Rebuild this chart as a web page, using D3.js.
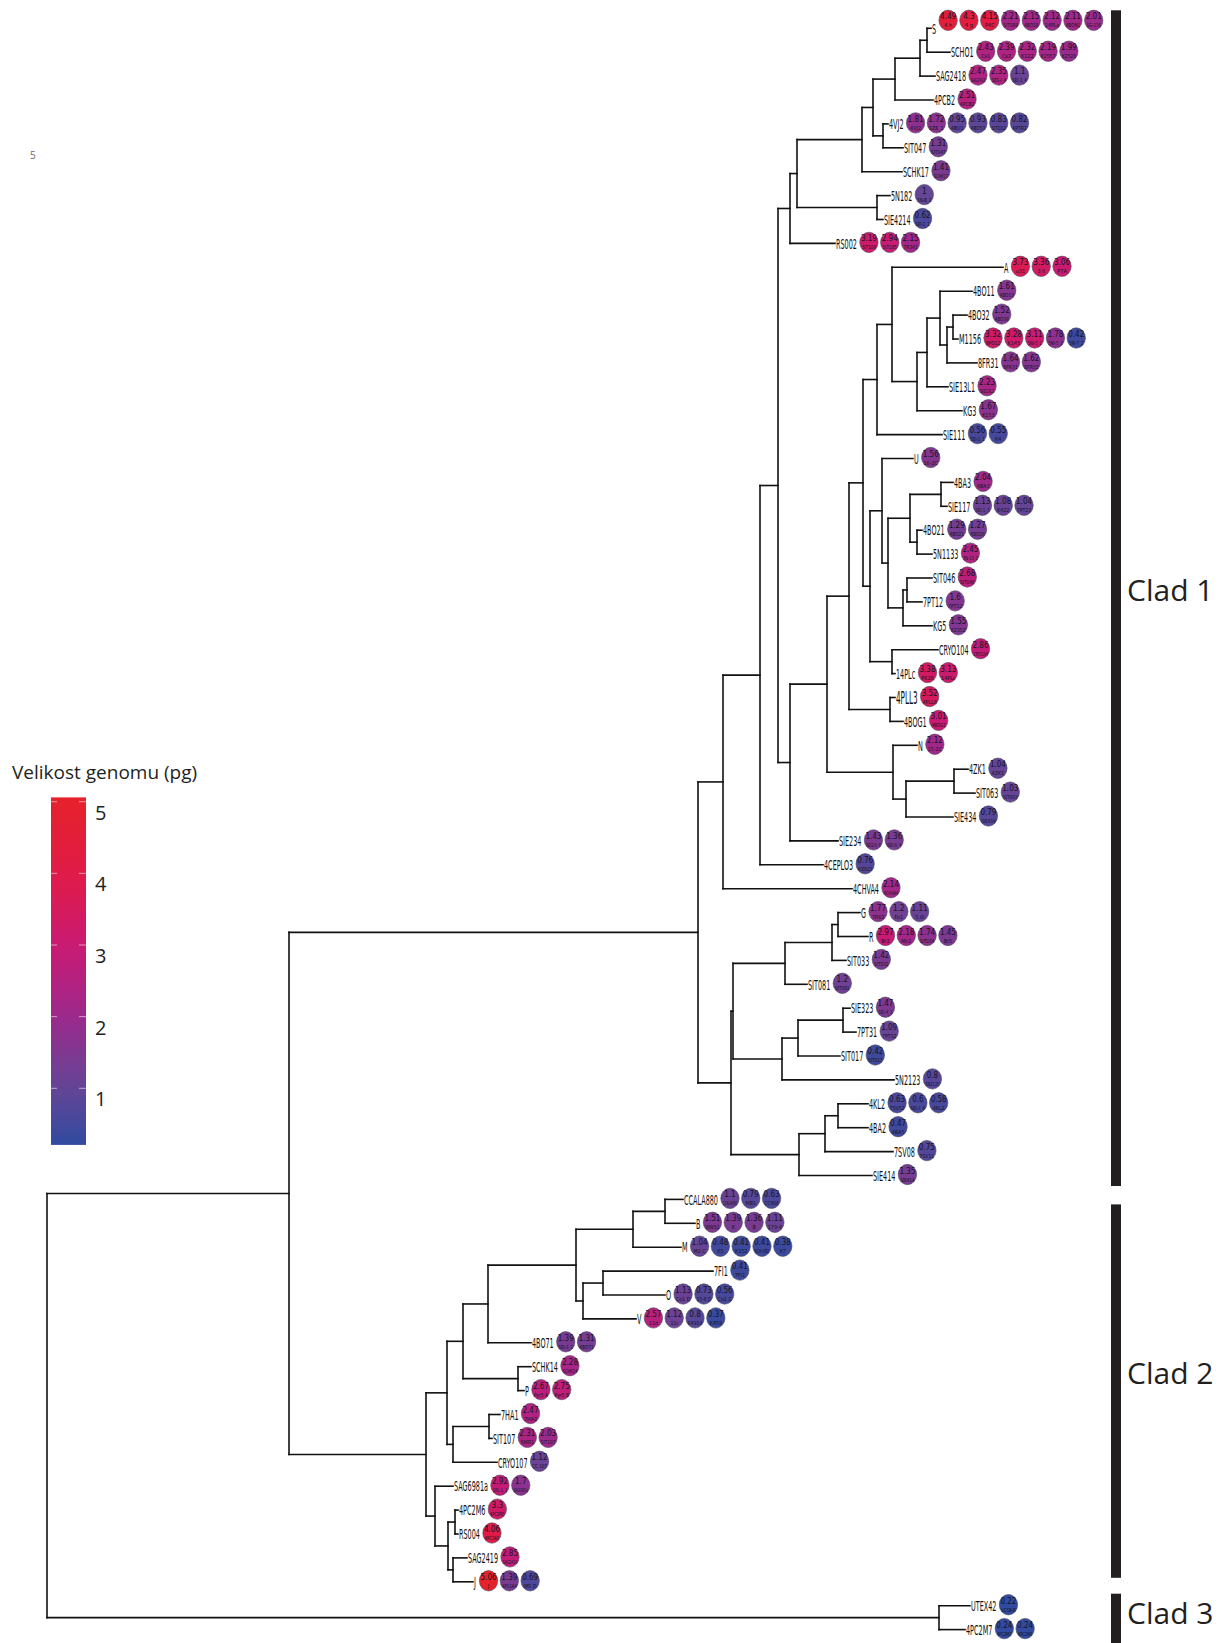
<!DOCTYPE html>
<html>
<head>
<meta charset="utf-8">
<script src="https://cdn.jsdelivr.net/npm/d3@7"></script>
<style>
  body { margin: 0; background: #fff; }
  svg { display: block; }
</style>
</head>
<body>
<svg></svg>
<script>
var width = 1227, height = 1643;

// tree: [node, parent, branch length]
var branches = [
  ["root", null, 0],
  ["n12", "root", 0.242],
  ["c1", "n12", 0.409],
  ["n723", "c1", 0.025],
  ["n760", "n723", 0.037],
  ["n778", "n760", 0.018],
  ["n790", "n778", 0.012],
  ["n797", "n790", 0.007],
  ["n862", "n797", 0.065],
  ["n873", "n862", 0.011],
  ["n895", "n873", 0.022],
  ["n920", "n895", 0.025],
  ["n927", "n920", 0.007],
  ["S", "n927", 0.004],
  ["SCHO1", "n927", 0.023],
  ["SAG2418", "n920", 0.015],
  ["4PCB2", "n895", 0.038],
  ["n883", "n873", 0.010],
  ["4VJ2", "n883", 0.005],
  ["SIT047", "n883", 0.020],
  ["SCHK17", "n862", 0.040],
  ["n877", "n797", 0.080],
  ["5N182", "n877", 0.013],
  ["SIE4214", "n877", 0.006],
  ["RS002", "n790", 0.045],
  ["nX", "n778", 0.012],
  ["nY", "nX", 0.037],
  ["nZ", "nY", 0.022],
  ["nW", "nZ", 0.014],
  ["nV1", "nW", 0.014],
  ["nV1a", "nV1", 0.015],
  ["A", "nV1a", 0.111],
  ["nV1b", "nV1a", 0.025],
  ["nV1c", "nV1b", 0.010],
  ["nV1d", "nV1c", 0.013],
  ["4BO11", "nV1d", 0.032],
  ["nV1e", "nV1d", 0.007],
  ["nV1f", "nV1e", 0.006],
  ["4BO32", "nV1f", 0.014],
  ["M1156", "nV1f", 0.005],
  ["8FR31", "nV1e", 0.030],
  ["SIE13L1", "nV1c", 0.021],
  ["KG3", "nV1b", 0.045],
  ["SIE111", "nV1", 0.065],
  ["nV2", "nW", 0.007],
  ["nV2a", "nV2", 0.012],
  ["U", "nV2a", 0.031],
  ["nV2b", "nV2a", 0.006],
  ["nV2c", "nV2b", 0.022],
  ["n4BA3", "nV2c", 0.031],
  ["4BA3", "n4BA3", 0.012],
  ["SIE117", "n4BA3", 0.006],
  ["n4BO21", "nV2c", 0.007],
  ["4BO21", "n4BO21", 0.005],
  ["5N1133", "n4BO21", 0.015],
  ["nV2d", "nV2b", 0.015],
  ["nSIT046", "nV2d", 0.004],
  ["SIT046", "nSIT046", 0.025],
  ["7PT12", "nSIT046", 0.015],
  ["KG5", "nV2d", 0.029],
  ["nCR", "nV2", 0.022],
  ["CRYO104", "nCR", 0.046],
  ["14PLc", "nCR", 0.003],
  ["n4PLL", "nZ", 0.041],
  ["4PLL3", "n4PLL", 0.005],
  ["4BOG1", "n4PLL", 0.013],
  ["nNG", "nY", 0.066],
  ["N", "nNG", 0.024],
  ["nNN2", "nNG", 0.013],
  ["n4ZK", "nNN2", 0.048],
  ["4ZK1", "n4ZK", 0.014],
  ["SIT063", "n4ZK", 0.021],
  ["SIE434", "nNN2", 0.047],
  ["SIE234", "nX", 0.048],
  ["4CEPLO3", "n760", 0.063],
  ["4CHVA4", "n723", 0.129],
  ["nL1", "c1", 0.033],
  ["nA1", "nL1", 0.002],
  ["nG1", "nA1", 0.052],
  ["nG2", "nG1", 0.047],
  ["nGR", "nG2", 0.006],
  ["G", "nGR", 0.022],
  ["R", "nGR", 0.030],
  ["SIT033", "nG2", 0.014],
  ["SIT081", "nG1", 0.022],
  ["nS1", "nA1", 0.049],
  ["nS2", "nS1", 0.016],
  ["nS3", "nS2", 0.045],
  ["SIE323", "nS3", 0.007],
  ["7PT31", "nS3", 0.013],
  ["SIT017", "nS2", 0.042],
  ["5N2123", "nS1", 0.112],
  ["nB1", "nL1", 0.068],
  ["nB2", "nB1", 0.026],
  ["nB3", "nB2", 0.013],
  ["4KL2", "nB3", 0.030],
  ["4BA2", "nB3", 0.030],
  ["7SV08", "nB2", 0.068],
  ["SIE414", "nB1", 0.073],
  ["c2", "n12", 0.137],
  ["nU2", "c2", 0.021],
  ["n463", "nU2", 0.016],
  ["n488", "n463", 0.025],
  ["n576", "n488", 0.088],
  ["n633", "n576", 0.057],
  ["n665", "n633", 0.032],
  ["CCALA880", "n665", 0.018],
  ["B", "n665", 0.030],
  ["M", "n633", 0.048],
  ["n583", "n576", 0.007],
  ["n603", "n583", 0.020],
  ["7FI1", "n603", 0.110],
  ["O", "n603", 0.062],
  ["V", "n583", 0.053],
  ["4BO71", "n488", 0.043],
  ["nSP", "n463", 0.055],
  ["SCHK14", "nSP", 0.013],
  ["P", "nSP", 0.006],
  ["n453", "nU2", 0.006],
  ["n489", "n453", 0.036],
  ["7HA1", "n489", 0.011],
  ["SIT107", "n489", 0.003],
  ["CRYO107", "n453", 0.044],
  ["nL", "c2", 0.009],
  ["SAG6981a", "nL", 0.018],
  ["nL2", "nL", 0.013],
  ["nL3", "nL2", 0.007],
  ["4PC2M6", "nL3", 0.003],
  ["RS004", "nL3", 0.003],
  ["nL4", "nL2", 0.005],
  ["SAG2419", "nL4", 0.014],
  ["J", "nL4", 0.020],
  ["c3", "root", 0.892],
  ["UTEX42", "c3", 0.031],
  ["4PC2M7", "c3", 0.026]
];

var leafNames = ["S","SCHO1","SAG2418","4PCB2","4VJ2","SIT047","SCHK17","5N182","SIE4214","RS002",
  "A","4BO11","4BO32","M1156","8FR31","SIE13L1","KG3","SIE111","U","4BA3","SIE117","4BO21","5N1133",
  "SIT046","7PT12","KG5","CRYO104","14PLc","4PLL3","4BOG1","N","4ZK1","SIT063","SIE434","SIE234",
  "4CEPLO3","4CHVA4","G","R","SIT033","SIT081","SIE323","7PT31","SIT017","5N2123","4KL2","4BA2",
  "7SV08","SIE414","CCALA880","B","M","7FI1","O","V","4BO71","SCHK14","P","7HA1","SIT107","CRYO107",
  "SAG6981a","4PC2M6","RS004","SAG2419","J","UTEX42","4PC2M7"];

// genome size (pg) of each strain, per leaf
var genomeSizes = [
  [4.49,4.3,4.15,2.21,2.15,2.12,2.11,2.01],
  [2.43,2.39,2.32,2.19,1.99],
  [2.47,2.35,1.1],
  [2.51],
  [1.81,1.72,0.95,0.93,0.83,0.82],
  [1.31],
  [1.41],
  [1],
  [0.62],
  [3.19,2.94,2.15],
  [3.73,3.36,3.06],
  [1.61],
  [1.52],
  [3.32,3.28,3.11,1.78,0.42],
  [1.64,1.62],
  [2.23],
  [1.67],
  [0.56,0.55],
  [1.56],
  [2.04],
  [1.13,1.08,1.04],
  [1.29,1.27],
  [2.45],
  [2.68],
  [1.6],
  [1.55],
  [2.86],
  [3.38,3.13],
  [3.52],
  [3.01],
  [2.12],
  [1.04],
  [1.03],
  [0.79],
  [1.43,1.36],
  [0.76],
  [2.14],
  [1.77,1.2,1.11],
  [2.97,2.18,1.74,1.45],
  [1.42],
  [1.2],
  [1.47],
  [1.09],
  [0.42],
  [0.8],
  [0.63,0.6,0.58],
  [0.47],
  [0.75],
  [1.35],
  [1.1,0.79,0.63],
  [1.51,1.39,1.36,1.11],
  [1.04,0.48,0.41,0.41,0.38],
  [0.41],
  [1.13,0.73,0.56],
  [2.57,1.12,0.8,0.37],
  [1.39,1.31],
  [2.28],
  [2.67,2.75],
  [2.47],
  [2.31,2.03],
  [1.12],
  [2.92,1.7],
  [3.3],
  [4.06],
  [2.85],
  [5.06,1.39,0.69],
  [0.22],
  [0.24,0.24]
];

var strainNames = [
  ["4 h","4 g","P4C","SIT089","4BO18","14PLa","4BON1","SG-136"],
  ["Cs1","Cs2","K122","K2557","K2520"],
  ["SAG2418","SES-I_4","SEI-1_4"],
  ["4PCB2"],
  ["4VJ2","SZE_1","4BU1","4BO53","SIT012","4PTR2"],
  ["SIT047"],
  ["SCHK17"],
  ["5N-B_2"],
  ["SEI-1_1"],
  ["SIT109","SIT185","7R341"],
  ["u31","3 II","P7A"],
  ["4BO13"],
  ["4BO36"],
  ["8PO12","K145","5NI-5_1","5NI-5_3","5NI-7_2"],
  ["8FR31","8FR32"],
  ["SIE13L1"],
  ["K153"],
  ["SEI-1_1","K4"],
  ["16-2C"],
  ["4BA3"],
  ["SEI-1_5","K422","7PT23"],
  ["4BO21","4BO26"],
  ["5N-13_2"],
  ["SIT046"],
  ["7PT12"],
  ["K2352"],
  ["CRYO104"],
  ["PK26","14PLc"],
  ["4PLL8"],
  ["4BOG1"],
  ["15-2C"],
  ["4ZK1"],
  ["SIT063"],
  ["SIE434"],
  ["SEI2-II_4","SEI-6_4"],
  ["4CEPLO3"],
  ["4CHVA4"],
  ["7R62","Fo1","5 III"],
  ["Br2","Mo1","SIT034","Br5"],
  ["SIT031"],
  ["SIT081"],
  ["SEI-4_1"],
  ["7PT32"],
  ["SIT017"],
  ["5N2125"],
  ["7SV52","SEI-I_4","4KL2"],
  ["4BA5"],
  ["7SV11"],
  ["SIE414"],
  ["CCALA880","MB1","CC906"],
  ["WWS1","K","B","179-4"],
  ["M2 C","K5","K152","KCH-VB2","K7"],
  ["7FI1"],
  ["Co1 D","15-8 D","Co1 C"],
  ["11d","11i","K4910","K459"],
  ["SEI-3_1","4BO71"],
  ["SCHK14"],
  ["Pyr5 A","Pyr5 B"],
  ["7HA2"],
  ["SMR1","SIT107"],
  ["CC 107"],
  ["SRL-1_1","SAG6981a"],
  ["4PC2M5"],
  ["4PC3A2"],
  ["SAG2419"],
  ["J","4P11A4","MS D"],
  ["UCSB-B"],
  ["4PC2M7","4PC2M8"]
];

var cladeNames = ["Clad 1", "Clad 2", "Clad 3"];
var cladeFirst = ["S", "CCALA880", "UTEX42"];
var cladeLast = ["SIE414", "J", "4PC2M7"];

var legendTicks = [1, 2, 3, 4, 5];

var svg = d3.select('svg')
    .attr('width', width)
    .attr('height', height);

var color = d3.scaleLinear()
    .domain([0.2, 1, 2, 2.5, 3, 4, 5.06])
    .range(["#2f4ba0", "#644596", "#9b2a8c", "#b5217f", "#c91a73", "#e11b47", "#e5222b"]);

// ---- tree layout
var root = d3.stratify().id(d => d[0]).parentId(d => d[1])(branches);
root.eachBefore(n => { n.dist = n.parent ? n.parent.dist + n.data[2] : 0; });

var x = d3.scaleLinear().domain([0, 1]).range([47, 1047]);
var y = d3.scalePoint().domain(leafNames).range([28.3, 1629.6]);

root.eachAfter(n => {
  n.px = x(n.dist);
  n.py = n.children
    ? (n.children[0].py + n.children[n.children.length - 1].py) / 2
    : y(n.id);
});

var g = svg.append('g')
    .attr('fill', 'none')
    .attr('stroke', '#111')
    .attr('stroke-width', 1.6)
    .attr('stroke-linecap', 'square');

g.selectAll('path.h').data(root.links())
  .join('path')
    .attr('class', 'h')
    .attr('d', l => `M${l.source.px},${l.target.py}H${l.target.px}`);

g.selectAll('path.v').data(root.descendants().filter(n => n.children))
  .join('path')
    .attr('class', 'v')
    .attr('d', n => `M${n.px},${n.children[0].py}V${n.children[n.children.length - 1].py}`);

// ---- leaf labels (very condensed face)
var labelFont = '"Liberation Sans Narrow", "DejaVu Sans Condensed", sans-serif';
var probe = svg.append('text').attr('font-family', labelFont).attr('font-size', 14.5).text('SCHO1');
var sx = 22.7 / probe.node().getComputedTextLength();
probe.remove();

var leaves = root.leaves();
var leafG = svg.selectAll('g.leaf').data(leaves)
  .join('g')
    .attr('class', 'leaf')
    .attr('transform', d => `translate(${d.px + 1},${d.py})`);

leafG.append('text')
    .attr('transform', d => d.id === '4PLL3' ? `scale(${sx * 1.12},1.2)` : `scale(${sx},1)`)
    .attr('font-family', labelFont)
    .attr('font-size', 14.5)
    .attr('dy', '0.36em')
    .attr('fill', '#111')
    .text(d => d.id);

leafG.each(function(d) {
  var i = leafNames.indexOf(d.id);
  var w = d3.select(this).select('text').node().getBBox().width * (d.id === '4PLL3' ? sx * 1.12 : sx);
  var vals = genomeSizes[i], names = strainNames[i];
  var cx0 = w + 3 + 9;
  var dy = d.id === 'S' ? -8 : -1;
  var c = d3.select(this).selectAll('g.c').data(vals)
    .join('g')
      .attr('class', 'c')
      .attr('transform', (v, k) => `translate(${cx0 + k * 20.8},${dy})`);
  c.append('ellipse')
      .attr('rx', 9.2)
      .attr('ry', 10.2)
      .attr('fill', v => color(v))
      .attr('stroke', '#4a4a5a')
      .attr('stroke-width', 0.6);
  c.append('text')
      .attr('text-anchor', 'middle')
      .attr('y', -1)
      .attr('font-family', labelFont)
      .attr('font-size', 8)
      .attr('fill', '#15151f')
      .text(v => v);
  c.append('text')
      .attr('text-anchor', 'middle')
      .attr('y', 7)
      .attr('font-family', labelFont)
      .attr('font-size', 5.4)
      .attr('fill', '#15151f')
      .text((v, k) => names[k])
      .each(function() {
        if (this.getComputedTextLength() > 14.5) {
          d3.select(this).attr('textLength', 14.5).attr('lengthAdjust', 'spacingAndGlyphs');
        }
      });
});

// ---- clade bars
var cladeFont = '"Open Sans", "Noto Sans", sans-serif';
var barPad = [[-18, 10.5], [5, -4], [-12, 20]];
var labelShift = [-8, -18, -5];
cladeNames.forEach((name, i) => {
  var top = y(cladeFirst[i]) + barPad[i][0];
  var bottom = Math.min(height, y(cladeLast[i]) + barPad[i][1]);
  svg.append('rect')
      .attr('x', 1111)
      .attr('y', top)
      .attr('width', 10)
      .attr('height', bottom - top)
      .attr('fill', '#231f20');
  svg.append('text')
      .attr('x', 1127)
      .attr('y', (top + bottom) / 2 + 11 + labelShift[i])
      .attr('font-family', cladeFont)
      .attr('font-size', 30)
      .attr('fill', '#231f20')
      .text(name);
});

// ---- legend
var legY = d3.scaleLinear().domain([1, 5]).range([1088.3, 801.7]);
var legTop = legY(5.06), legBottom = legY(0.21);

var grad = svg.append('defs').append('linearGradient')
    .attr('id', 'legGrad')
    .attr('x1', 0).attr('y1', 0).attr('x2', 0).attr('y2', 1);
grad.selectAll('stop').data(d3.range(0, 1.0001, 0.05))
  .join('stop')
    .attr('offset', t => t)
    .attr('stop-color', t => color(5.06 - t * (5.06 - 0.21)));

svg.append('text')
    .attr('x', 12)
    .attr('y', 779)
    .attr('font-family', cladeFont)
    .attr('font-size', 19)
    .attr('fill', '#231f20')
    .text('Velikost genomu (pg)');

svg.append('rect')
    .attr('x', 51)
    .attr('y', legTop)
    .attr('width', 35)
    .attr('height', legBottom - legTop)
    .attr('fill', 'url(#legGrad)');

var tk = svg.selectAll('g.tick').data(legendTicks)
  .join('g')
    .attr('class', 'tick')
    .attr('transform', d => `translate(0,${legY(d)})`);
tk.append('line').attr('x1', 51).attr('x2', 57).attr('stroke', '#fff').attr('stroke-opacity', 0.55);
tk.append('line').attr('x1', 79).attr('x2', 86).attr('stroke', '#fff').attr('stroke-opacity', 0.55);
tk.append('text')
    .attr('x', 95)
    .attr('y', 18)
    .attr('font-family', cladeFont)
    .attr('font-size', 20)
    .attr('fill', '#231f20')
    .text(d => d);

// stray mark in the original figure
svg.append('text')
    .attr('x', 30)
    .attr('y', 159)
    .attr('font-family', cladeFont)
    .attr('font-size', 10)
    .attr('fill', '#666')
    .text('5');
</script>
</body>
</html>
